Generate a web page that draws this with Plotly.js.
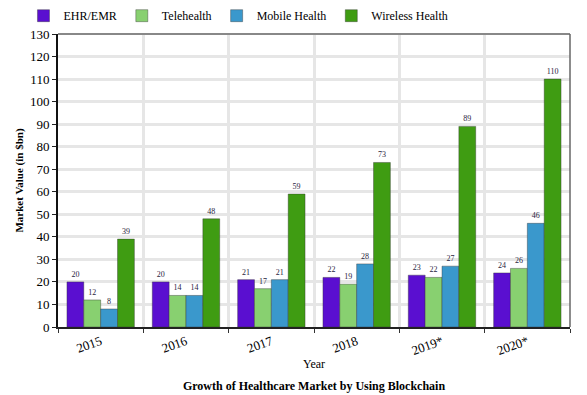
<!DOCTYPE html>
<html><head><meta charset="utf-8">
<script src="https://cdn.plot.ly/plotly-3.0.1.min.js"></script>
<style>html,body{margin:0;padding:0;background:#fff}#c{width:587px;height:395px}</style>
</head><body><div id="c"></div>
<script>
const years = ["2015","2016","2017","2018","2019*","2020*"];
const seriesNames = ["EHR/EMR","Telehealth","Mobile Health","Wireless Health"];
const ehr = [20,20,21,22,23,24];
const tele = [12,14,17,19,22,26];
const mobile = [8,14,21,28,27,46];
const wireless = [39,48,59,73,89,110];
const colors = ["#5a0fd0","#88d070","#3a98cc","#3f9c12"];
const values = [ehr, tele, mobile, wireless];

const font = "'Liberation Serif', 'Times New Roman', serif";
const traces = values.map((v,i)=>({
  type:"bar", name:seriesNames[i], x:years, y:v,
  marker:{color:colors[i], line:{color:"#333", width:0.4}},
  text:v.map(String), textposition:"outside", cliponaxis:false,
  textfont:{family:font,size:8,color:"#2a2440"},
  outsidetextfont:{family:font,size:8,color:"#2a2440"}
}));

const layout = {
  width:587, height:395,
  margin:{l:58,r:17,t:34,b:68},
  paper_bgcolor:"#fff", plot_bgcolor:"#fff",
  font:{family:font,size:12,color:"#000"},
  barmode:"group", bargap:0.21, bargroupgap:0,
  showlegend:true,
  legend:{orientation:"h", x:0.04, xref:"container", xanchor:"left", y:0.997, yanchor:"top", yref:"container", traceorder:"normal",
    font:{family:font,size:12}, itemwidth:30, tracegroupgap:0},
  title:{text:"<b>Growth of Healthcare Market by Using Blockchain</b>", x:0.5, xref:"paper", xanchor:"center",
    y:0.012, yref:"container", yanchor:"bottom", font:{family:font,size:12,color:"#000"}},
  xaxis:{type:"category", tickson:"boundaries", showgrid:true, gridcolor:"#e6e6e6", gridwidth:3,
    ticks:"outside", ticklen:4, tickcolor:"#333", tickangle:-20,
    showline:true, linecolor:"#222", linewidth:2, mirror:false,
    tickfont:{family:font,size:13},
    title:{text:"Year", font:{family:font,size:12}, standoff:2}},
  yaxis:{range:[0,130], dtick:10, showgrid:true, gridcolor:"#e6e6e6", gridwidth:3,
    zeroline:false, ticks:"outside", ticklen:4, tickcolor:"#222",
    showline:true, linecolor:"#111", linewidth:2,
    tickfont:{family:font,size:13},
    title:{text:"<b>Market Value (in $bn)</b>", font:{family:font,size:11}, standoff:4}},
  shapes:[
    {type:"line", xref:"paper", yref:"paper", x0:0, x1:1, y0:1, y1:1, line:{color:"#888", width:2}},
    {type:"line", xref:"paper", yref:"paper", x0:1, x1:1, y0:0, y1:1, line:{color:"#666", width:1.5}}
  ]
};
Plotly.newPlot("c", traces, layout, {displayModeBar:false, staticPlot:true});
</script>
</body></html>
